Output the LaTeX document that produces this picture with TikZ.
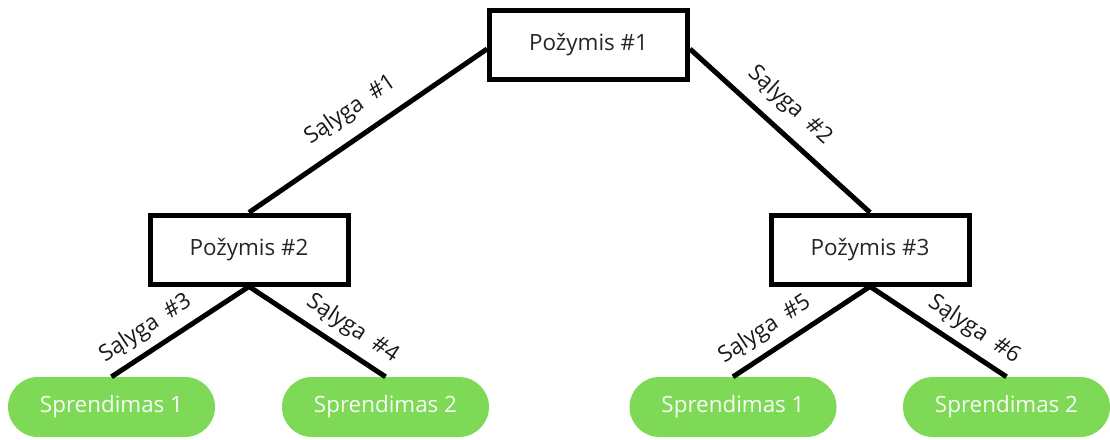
\documentclass[tikz,border=0pt]{standalone}
\usepackage{fontspec}
\setmainfont{Open Sans}
\usetikzlibrary{calc}
\definecolor{leafgreen}{HTML}{7ED957}
\newcommand{\cgap}{\hspace{0.5em}}
\tikzset{
  labelfont/.style={font=\fontsize{22.4}{26}\selectfont},
  featurebox/.style={draw=black, line width=5pt, fill=white, minimum width=198pt,
    minimum height=69pt, inner sep=0pt, labelfont, text=black!85},
  leaf/.style={fill=leafgreen, rounded corners=30pt, minimum width=207pt,
    minimum height=60pt, inner sep=0pt, labelfont, text=white!94!leafgreen},
  edge/.style={line width=5pt, black},
  cond/.style={sloped, above, inner sep=8pt, labelfont, text=black!90}
}
\begin{document}
\begin{tikzpicture}[x=1pt,y=-1pt]
\useasboundingbox (0,0) rectangle (1110,439);

% feature nodes
\node[featurebox] (f1) at (588.5,45) {Požymis \#1};
\node[featurebox] (f2) at (249,249.5) {Požymis \#2};
\node[featurebox] (f3) at (870,249.5) {Požymis \#3};

% decisions
\node[leaf] (d1) at (111.5,407) {Sprendimas 1};
\node[leaf] (d2) at (385.5,407) {Sprendimas 2};
\node[leaf] (d3) at (733,407) {Sprendimas 1};
\node[leaf] (d4) at (1006.5,407) {Sprendimas 2};

% branches with their conditions
\draw[edge] ($(f1.west)+(0,4)$) -- node[cond, pos=0.51, inner sep=13pt] {Sąlyga\cgap\#1} (f2.north);
\draw[edge] ($(f1.east)+(0,4)$) -- node[cond, pos=0.46, inner sep=11.5pt] {Sąlyga\cgap\#2} (f3.north);
\draw[edge] (f2.south) -- node[cond, pos=0.665] {Sąlyga\cgap\#3} (d1.north);
\draw[edge] (f2.south) -- node[cond, pos=0.67] {Sąlyga\cgap\#4} (d2.north);
\draw[edge] (f3.south) -- node[cond, pos=0.68] {Sąlyga\cgap\#5} (d3.north);
\draw[edge] (f3.south) -- node[cond, pos=0.675] {Sąlyga\cgap\#6} (d4.north);
\end{tikzpicture}
\end{document}
